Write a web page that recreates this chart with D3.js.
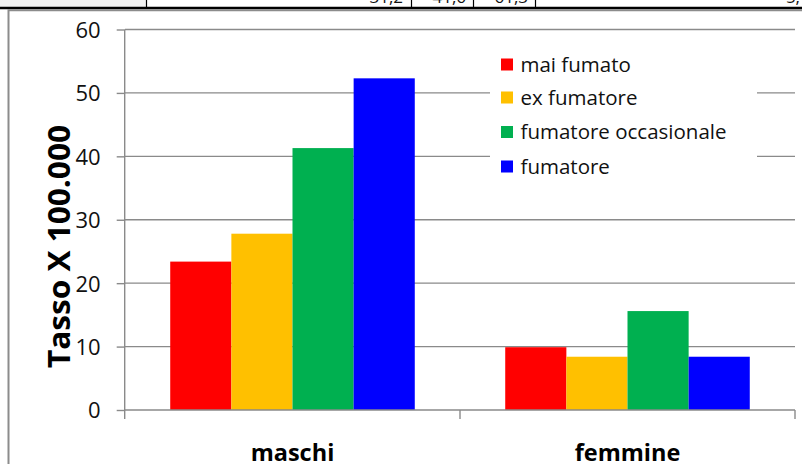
<!DOCTYPE html>
<html><head><meta charset="utf-8">
<script src="https://cdn.jsdelivr.net/npm/d3@7"></script>
<style>html,body{margin:0;padding:0;background:#fff;overflow:hidden}</style>
</head><body>
<svg id="c" width="802" height="464"></svg>
<script>
const categories = ["maschi", "femmine"];
const seriesNames = ["mai fumato", "ex fumatore", "fumatore occasionale", "fumatore"];
const maschiValues = [23.4, 27.8, 41.3, 52.3];
const femmineValues = [9.9, 8.4, 15.6, 8.4];
const seriesColors = ["#FF0000", "#FFC000", "#00B050", "#0000FF"];
const yTicks = [0, 10, 20, 30, 40, 50, 60];
const yTitle = "Tasso X 100.000";
const tableValues = ["31,2", "41,6", "61,3", "5,"];

const valuesByCat = {maschi: maschiValues, femmine: femmineValues};
const svg = d3.select("#c");
const grid = "#8a8a8a";
const fontR = "'Open Sans', sans-serif";

// spreadsheet strip at the top
svg.append("rect").attr("x", 0).attr("y", 0).attr("width", 146).attr("height", 7.5).attr("fill", "#f2f2f2");
[146.5, 411.5, 473.5, 535.5].forEach(x => svg.append("line").attr("x1", x).attr("x2", x).attr("y1", 0).attr("y2", 8).attr("stroke", "#000").attr("stroke-width", 1.2));
const tableRight = [403, 466, 528, 800];
tableValues.forEach((t, i) => svg.append("text").attr("x", tableRight[i]).attr("y", 2.5).attr("text-anchor", "end")
  .attr("font-family", fontR).attr("font-size", 17).attr("fill", "#111").text(t));
svg.append("line").attr("x1", 0).attr("x2", 802).attr("y1", 8).attr("y2", 8).attr("stroke", "#000").attr("stroke-width", 2.6);

// chart frame
svg.append("path").attr("d", "M8.5,464 V10.3 H802").attr("fill", "none").attr("stroke", "#8c8c8c").attr("stroke-width", 2);

const y = d3.scaleLinear().domain([0, 60]).range([410, 29.5]);
const x0 = d3.scaleBand().domain(categories).range([125, 795]).paddingInner(0.27).paddingOuter(0.135);
const x1 = d3.scaleBand().domain(seriesNames).range([0, x0.bandwidth()]);

// gridlines
svg.append("g").selectAll("line").data(yTicks.filter(d => d > 0)).join("line")
  .attr("x1", 125).attr("x2", 795).attr("y1", d => y(d)).attr("y2", d => y(d))
  .attr("stroke", grid).attr("stroke-width", 1.4);

// bars
categories.forEach(c => {
  svg.append("g").selectAll("rect").data(seriesNames).join("rect")
    .attr("x", (s) => x0(c) + x1(s))
    .attr("width", x1.bandwidth())
    .attr("y", (s, i) => y(valuesByCat[c][i]))
    .attr("height", (s, i) => y(0) - y(valuesByCat[c][i]))
    .attr("fill", (s, i) => seriesColors[i]);
});

// y axis
const yAxis = d3.axisLeft(y).tickValues(yTicks).tickSize(8).tickPadding(16).tickFormat(d3.format("d"));
const ga = svg.append("g").attr("transform", "translate(124.7,0)").call(yAxis);
ga.select(".domain").attr("d", "M0," + y(60) + "V419").attr("stroke", grid).attr("stroke-width", 1.4);
ga.selectAll(".tick line").attr("stroke", grid).attr("stroke-width", 1.4);
ga.selectAll(".tick text").attr("font-family", fontR).attr("font-size", 22).attr("fill", "#111").attr("dy", "0.36em");

// x axis line and category ticks
svg.append("line").attr("x1", 124.7).attr("x2", 795).attr("y1", y(0)).attr("y2", y(0)).attr("stroke", grid).attr("stroke-width", 1.4);
const bounds = categories.map((c, i) => x0.range()[0] + (i + 1) * x0.step());
svg.append("g").selectAll("line").data(bounds).join("line")
  .attr("x1", d => d).attr("x2", d => d).attr("y1", y(0)).attr("y2", 419)
  .attr("stroke", grid).attr("stroke-width", 1.4);

// category labels
svg.append("g").selectAll("text").data(categories).join("text")
  .attr("x", c => x0(c) + x0.bandwidth() / 2).attr("y", 461)
  .attr("text-anchor", "middle").attr("font-family", fontR).attr("font-weight", "bold")
  .attr("font-size", 23.5).attr("fill", "#000").text(c => c);

// y title
svg.append("text").attr("transform", "translate(70,246.5) rotate(-90)")
  .attr("text-anchor", "middle").attr("font-family", fontR).attr("font-weight", "bold")
  .attr("font-size", 30).attr("textLength", 243).attr("lengthAdjust", "spacingAndGlyphs")
  .attr("fill", "#000").text(yTitle);

// legend
const lg = svg.append("g");
lg.append("rect").attr("x", 490).attr("y", 40).attr("width", 267).attr("height", 146).attr("fill", "#fff");
const rowY = [64.5, 97.5, 132, 166.5];
seriesNames.forEach((s, i) => {
  lg.append("rect").attr("x", 501).attr("y", rowY[i] - 6).attr("width", 12).attr("height", 12).attr("fill", seriesColors[i]);
  lg.append("text").attr("x", 520.5).attr("y", rowY[i]).attr("dy", "0.36em")
    .attr("font-family", fontR).attr("font-size", 20.5).attr("fill", "#111").text(s);
});
</script>
</body></html>
